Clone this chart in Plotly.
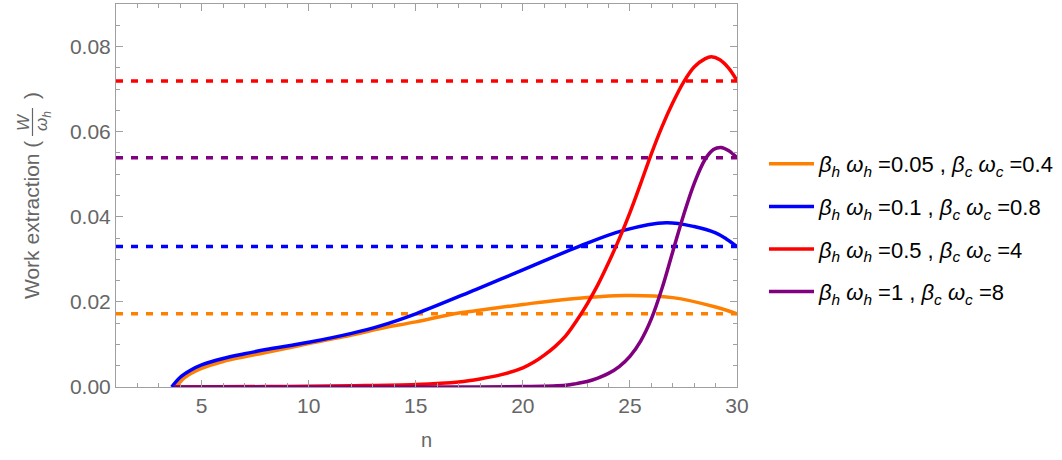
import plotly.graph_objects as go

orange_n = [3.8, 4.2, 4.7, 5, 6, 7, 8, 10, 12, 13.3, 15, 16.8, 17.8, 20, 22.2, 24.8, 27, 29, 30]
orange_w = [0, 0.0022, 0.0037, 0.0044, 0.0060, 0.0071, 0.0081, 0.0102, 0.0122, 0.0137, 0.0153, 0.0172, 0.0179, 0.0194, 0.0207, 0.0215, 0.0210, 0.0188, 0.0172]

blue_n = [3.6, 4.0, 4.5, 5, 6, 7, 8, 10, 12, 13.3, 15, 17.8, 20, 22.6, 24.7, 26.7, 28, 29, 29.5, 30]
blue_w = [0, 0.0023, 0.0040, 0.0052, 0.0067, 0.0078, 0.0088, 0.0105, 0.0126, 0.0143, 0.0172, 0.0229, 0.0275, 0.0330, 0.0368, 0.0386, 0.0377, 0.0362, 0.0348, 0.0330]

red_n = [3.7, 8, 12, 15, 17, 18, 19, 20, 20.5, 21, 21.5, 22, 22.5, 23, 23.5, 24, 24.5, 25, 25.5, 26, 26.5, 27, 27.5, 28, 28.5, 28.8, 29.2, 29.6, 30]
red_w = [0, 0.0001, 0.0003, 0.0006, 0.0012, 0.0019, 0.0029, 0.0045, 0.0058, 0.0075, 0.0095, 0.0120, 0.0155, 0.0195, 0.0240, 0.0292, 0.0348, 0.0410, 0.0478, 0.0548, 0.0612, 0.0668, 0.0716, 0.0752, 0.0771, 0.0776, 0.0769, 0.0750, 0.0720]

purple_n = [3.7, 10, 16, 20, 22, 22.5, 23, 23.5, 24, 24.5, 25, 25.5, 26, 26.5, 27, 27.5, 28, 28.5, 28.9, 29.25, 29.6, 30]
purple_w = [0, 0, 0.00002, 0.0001, 0.0004, 0.0008, 0.0013, 0.0021, 0.0032, 0.0048, 0.0072, 0.0108, 0.0160, 0.0232, 0.0318, 0.0403, 0.0478, 0.0534, 0.0558, 0.0563, 0.0556, 0.0539]

limit_values = [0.0172, 0.0330, 0.0719, 0.0539]
n_range = [1, 30]
w_range = [0, 0.09]

colors = ["#FF8000", "#0000FF", "#FF0000", "#800080"]
def lab(bh, bc):
    return (f"<i>β</i><sub><i>h</i></sub> <i>ω</i><sub><i>h</i></sub> ={bh} , "
            f"<i>β</i><sub><i>c</i></sub> <i>ω</i><sub><i>c</i></sub> ={bc}")
labels = [lab("0.05", "0.4"), lab("0.1", "0.8"), lab("0.5", "4"), lab("1", "8")]
series = [(orange_n, orange_w), (blue_n, blue_w), (red_n, red_w), (purple_n, purple_w)]

FONT = "Liberation Sans, Arial, sans-serif"
GRAY = "#666666"
FRAME = "#A0A0A0"

# plot area in pixels
L, R, T, B = 116, 325, 4, 73
W_, H_ = 1062, 460
PW, PH = W_ - L - R, H_ - T - B

def px(x):
    return (x - L) / PW

def py(y):
    return (H_ - B - y) / PH

fig = go.Figure()
for c, v in zip(colors, limit_values):
    fig.add_trace(go.Scatter(x=n_range, y=[v, v], mode="lines",
                             line=dict(color=c, width=3.5, dash="7px,8px"),
                             showlegend=False, hoverinfo="skip"))
for i, ((xs, ys), c, lb) in enumerate(zip(series, colors, labels)):
    fig.add_trace(go.Scatter(x=xs, y=ys, mode="lines", name=lb,
                             line=dict(color=c, width=3.5, shape="spline", smoothing=1.0),
                             legendgroup=f"g{i}"))

axis_common = dict(
    showline=True, linecolor=FRAME, linewidth=1, mirror="allticks",
    ticks="inside", ticklen=7, tickcolor=FRAME, tickwidth=1,
    showgrid=False, zeroline=False, automargin=False,
    tickfont=dict(family=FONT, size=21, color=GRAY),
)
fig.update_xaxes(range=n_range, tickvals=[5, 10, 15, 20, 25, 30],
                 minor=dict(dtick=1, tick0=0, ticks="inside", ticklen=4, tickcolor=FRAME, showgrid=False),
                 title=dict(text="n", font=dict(family=FONT, size=20, color=GRAY), standoff=16),
                 **axis_common)
fig.update_yaxes(range=w_range, tickvals=[0, 0.02, 0.04, 0.06, 0.08], tickformat=".2f",
                 minor=dict(dtick=0.005, tick0=0, ticks="inside", ticklen=4, tickcolor=FRAME, showgrid=False),
                 **axis_common)

# y-axis title built from rotated text pieces (with a stacked fraction)
ann = dict(xref="paper", yref="paper", showarrow=False, textangle=-90,
           xanchor="center", yanchor="middle")
fig.add_annotation(text="Work extraction (", x=px(32), y=py(220),
                   font=dict(family=FONT, size=21, color=GRAY), **ann)
fig.add_annotation(text="<i>W</i>", x=px(23), y=py(122),
                   font=dict(family=FONT, size=17, color=GRAY), **ann)
fig.add_annotation(text="<i>ω</i><sub><i>h</i></sub>", x=px(43), y=py(121),
                   font=dict(family=FONT, size=17, color=GRAY), **ann)
fig.add_annotation(text=")", x=px(32), y=py(96),
                   font=dict(family=FONT, size=21, color=GRAY), **ann)
fig.add_shape(type="line", xref="paper", yref="paper",
              x0=px(32.5), x1=px(32.5), y0=py(108), y1=py(136),
              line=dict(color=GRAY, width=1.2))

fig.update_layout(
    width=W_, height=H_,
    margin=dict(l=L, r=R, t=T, b=B, autoexpand=False),
    plot_bgcolor="white", paper_bgcolor="white",
    showlegend=True,
    legend=dict(x=px(764), y=py(143), xanchor="left", yanchor="top",
                font=dict(family=FONT, size=22, color="#000000"),
                tracegroupgap=11, itemwidth=45, bgcolor="rgba(0,0,0,0)"),
)

fig.write_html("out.html", config={"displayModeBar": False},
               post_script="document.body.style.margin='0';")
